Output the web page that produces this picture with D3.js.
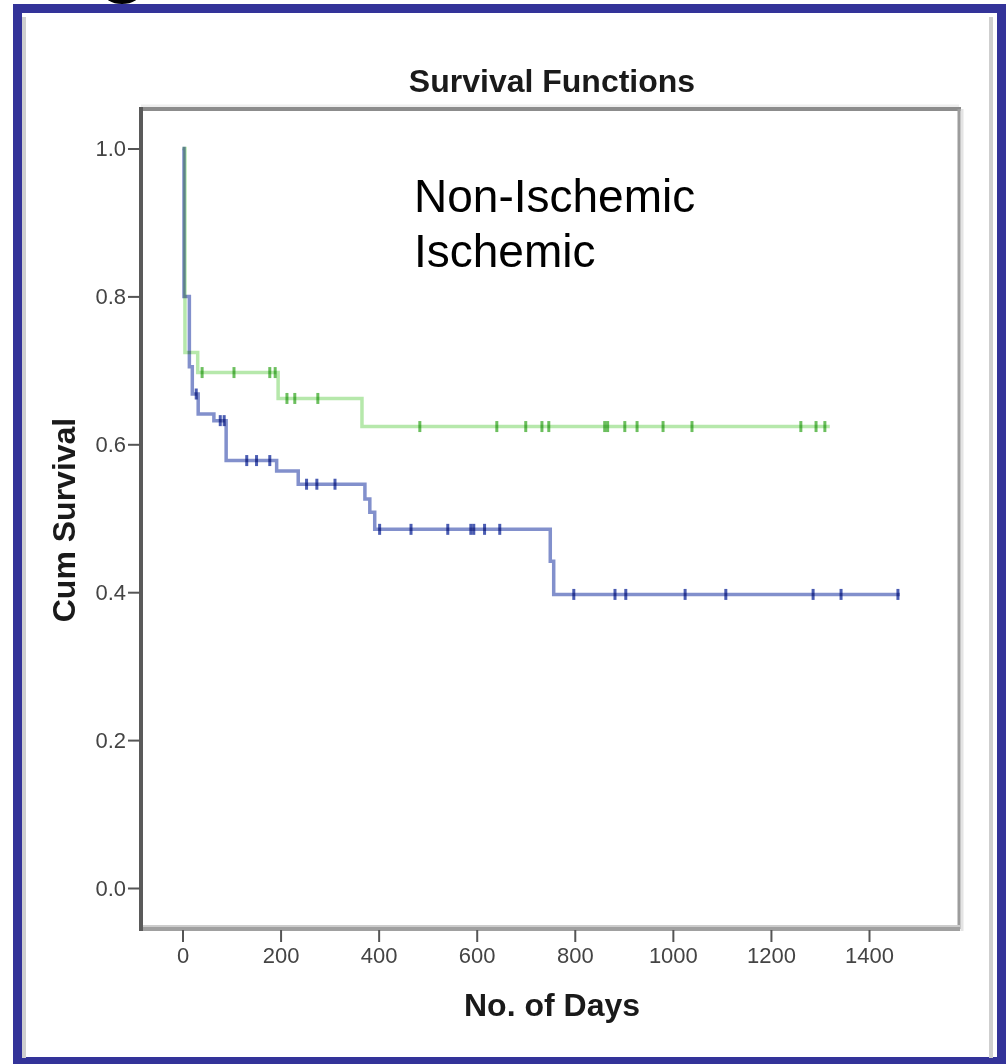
<!DOCTYPE html>
<html>
<head>
<meta charset="utf-8">
<script src="https://cdn.jsdelivr.net/npm/d3@7"></script>
<style>
body { margin: 0; background: #fff; }
text { font-family: "Liberation Sans", Arial, sans-serif; }
</style>
</head>
<body>
<div id="chart"></div>
<script>
// Kaplan-Meier steps: [day, cumulative survival]
const nonIschemicSteps = [[0, 1.0], [5, 0.724], [31, 0.697], [195, 0.662], [366, 0.624]];
const nonIschemicEnd = 1320;
const nonIschemicCensored = [40, 105, 178, 189, 213, 229, 276, 484, 641, 700, 733, 747, 861, 867, 902, 927, 980, 1039, 1261, 1292, 1310];

const ischemicSteps = [[0, 1.0], [3, 0.80], [14, 0.705], [20, 0.668], [32, 0.641], [64, 0.632], [89, 0.578],
	[192, 0.564], [236, 0.546], [372, 0.526], [382, 0.508], [392, 0.485], [750, 0.442], [757, 0.397]];
const ischemicEnd = 1463;
const ischemicCensored = [28, 77, 85, 131, 151, 178, 253, 274, 311, 402, 466, 541, 588, 594, 616, 647,
	798, 882, 904, 1025, 1108, 1286, 1343, 1459];

const xTicks = [0, 200, 400, 600, 800, 1000, 1200, 1400];
const yTicks = [0.0, 0.2, 0.4, 0.6, 0.8, 1.0];
const legendLabels = ["Non-Ischemic", "Ischemic"];

const width = 1006, height = 1064;
const frame = {left: 141, top: 109, right: 959, bottom: 929};

const svg = d3.select("#chart").append("svg")
	.attr("width", width)
	.attr("height", height);

// outer slide border
svg.append("rect").attr("x", 0).attr("y", 0).attr("width", width).attr("height", height).style("fill", "#fff");
svg.append("ellipse").attr("cx", 122).attr("cy", -8).attr("rx", 19).attr("ry", 12).style("fill", "#000");
svg.append("rect").attr("x", 17.5).attr("y", 8.5).attr("width", 984).attr("height", 1053)
	.style("fill", "none").style("stroke", "#333399").style("stroke-width", 9);
svg.append("line").attr("x1", 24).attr("x2", 24).attr("y1", 17).attr("y2", 1058)
	.style("stroke", "#cfcfcf").style("stroke-width", 4);
svg.append("line").attr("x1", 991).attr("x2", 991).attr("y1", 17).attr("y2", 1058)
	.style("stroke", "#cfcfcf").style("stroke-width", 4);

const x = d3.scaleLinear().domain([0, 1400]).range([182.5, 869]);
const y = d3.scaleLinear().domain([0, 1]).range([888, 148.5]);

// plot frame
svg.append("line").attr("x1", frame.left).attr("x2", frame.right).attr("y1", frame.top - 3).attr("y2", frame.top - 3)
	.style("stroke", "#eeeeee").style("stroke-width", 3);
svg.append("line").attr("x1", frame.left).attr("x2", frame.right + 2).attr("y1", frame.top).attr("y2", frame.top)
	.style("stroke", "#8c8c8c").style("stroke-width", 4);
svg.append("line").attr("x1", frame.right + 3).attr("x2", frame.right + 3).attr("y1", frame.top).attr("y2", frame.bottom + 2)
	.style("stroke", "#e4e4e4").style("stroke-width", 3);
svg.append("line").attr("x1", frame.right).attr("x2", frame.right).attr("y1", frame.top).attr("y2", frame.bottom)
	.style("stroke", "#9c9c9c").style("stroke-width", 3);
svg.append("line").attr("x1", frame.left).attr("x2", frame.right + 1).attr("y1", frame.bottom - 3).attr("y2", frame.bottom - 3)
	.style("stroke", "#cccccc").style("stroke-width", 2);
svg.append("line").attr("x1", frame.left).attr("x2", frame.right + 1).attr("y1", frame.bottom).attr("y2", frame.bottom)
	.style("stroke", "#a0a0a0").style("stroke-width", 4);
svg.append("line").attr("x1", frame.left).attr("x2", frame.left).attr("y1", frame.top - 2).attr("y2", frame.bottom + 2)
	.style("stroke", "#5a5a5a").style("stroke-width", 4);

// axes
const yAxis = svg.append("g")
	.attr("transform", "translate(" + (frame.left - 1) + ",0)")
	.call(d3.axisLeft(y).tickValues(yTicks).tickFormat(d3.format(".1f")).tickSize(12).tickPadding(2));
yAxis.select(".domain").remove();
yAxis.selectAll("line").style("stroke", "#555").style("stroke-width", 2);
yAxis.selectAll("text").style("font-size", "22px").style("fill", "#444");

const xAxis = svg.append("g")
	.attr("transform", "translate(0," + (frame.bottom + 1) + ")")
	.call(d3.axisBottom(x).tickValues(xTicks).tickFormat(d3.format("d")).tickSize(12).tickPadding(5));
xAxis.select(".domain").remove();
xAxis.selectAll("line").style("stroke", "#555").style("stroke-width", 2);
xAxis.selectAll("text").style("font-size", "22px").style("fill", "#444");

// titles
svg.append("text").attr("x", 552).attr("y", 92).attr("text-anchor", "middle")
	.style("font-size", "32px").style("font-weight", "bold").style("fill", "#1a1a1a")
	.text("Survival Functions");
svg.append("text").attr("x", 552).attr("y", 1016).attr("text-anchor", "middle")
	.style("font-size", "32px").style("font-weight", "bold").style("fill", "#1a1a1a")
	.text("No. of Days");
svg.append("text").attr("transform", "translate(75,520) rotate(-90)").attr("text-anchor", "middle")
	.style("font-size", "32px").style("font-weight", "bold").style("fill", "#1a1a1a")
	.text("Cum Survival");

// survival at time t from the step list
function survivalAt(steps, t) {
	let s = steps[0][1];
	steps.forEach(d => { if (d[0] <= t) s = d[1]; });
	return s;
}

function drawCurve(steps, end, censored, lineColor, markColor) {
	const pts = steps.concat([[end, steps[steps.length - 1][1]]]);
	const line = d3.line().x(d => x(d[0])).y(d => y(d[1])).curve(d3.curveStepAfter);
	svg.append("path")
		.datum(pts)
		.attr("d", line)
		.style("fill", "none")
		.style("stroke", lineColor)
		.style("stroke-width", 3.5)
		.style("mix-blend-mode", "multiply");
	svg.selectAll(null)
		.data(censored)
		.enter()
		.append("line")
		.attr("x1", d => x(d)).attr("x2", d => x(d))
		.attr("y1", d => y(survivalAt(steps, d)) - 5.5)
		.attr("y2", d => y(survivalAt(steps, d)) + 5.5)
		.style("stroke", markColor)
		.style("stroke-width", 3)
		.style("mix-blend-mode", "multiply");
}

drawCurve(ischemicSteps, ischemicEnd, ischemicCensored, "#8290cc", "#4a5cb2");
drawCurve(nonIschemicSteps, nonIschemicEnd, nonIschemicCensored, "#b6e8ab", "#6cbf5e");

// legend text
svg.selectAll(".legend")
	.data(legendLabels)
	.enter()
	.append("text")
	.attr("class", "legend")
	.attr("x", 414)
	.attr("y", (d, i) => 212 + i * 55)
	.style("font-size", "46px")
	.style("fill", "#000")
	.text(d => d);
</script>
</body>
</html>
